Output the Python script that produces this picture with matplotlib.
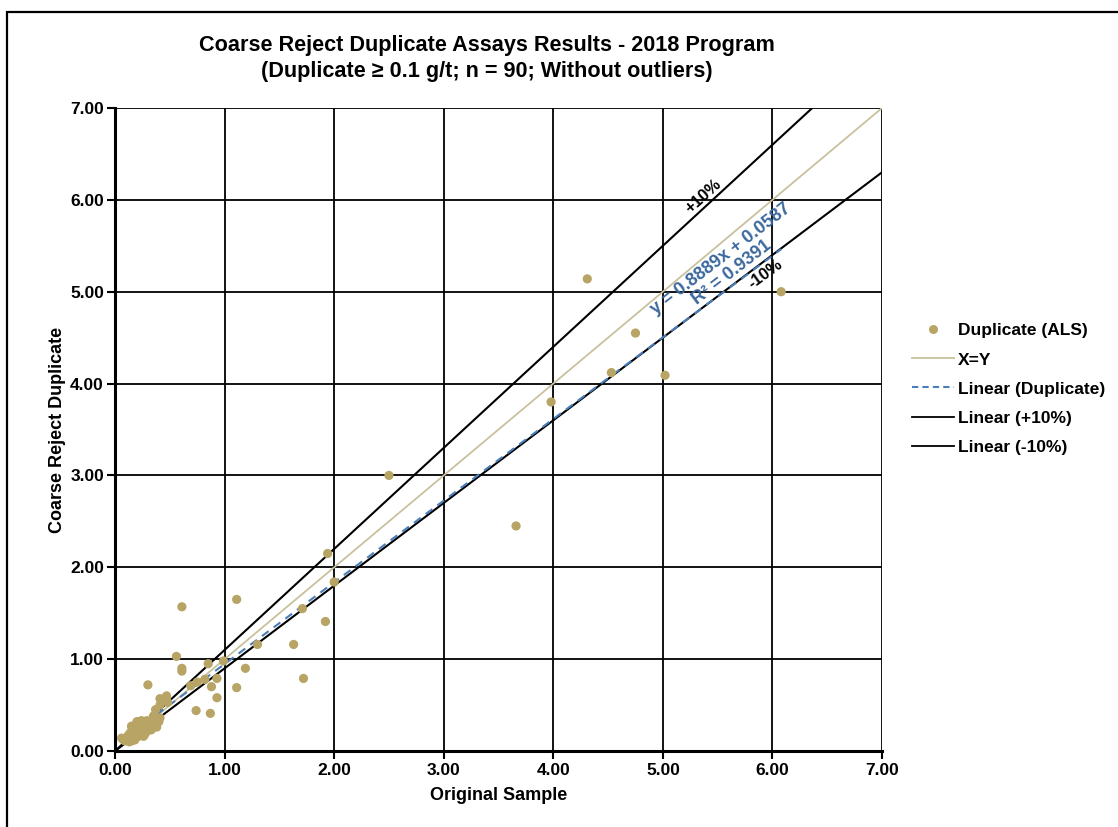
import numpy as np
import matplotlib
matplotlib.use('Agg')
import matplotlib.pyplot as plt
from matplotlib.lines import Line2D
from matplotlib.patches import Rectangle

plt.rcParams['font.family'] = ['Liberation Sans', 'DejaVu Sans']
plt.rcParams['font.weight'] = 'bold'

# original sample vs coarse reject duplicate (g/t)
orig = [6.08, 4.31, 4.75, 4.53, 5.02, 3.98, 2.50, 3.66, 1.94, 2.00,
        1.92, 1.71, 1.63, 1.72, 1.11, 1.19, 1.30, 0.99, 0.85, 0.93,
        0.75, 0.88, 1.11, 0.93, 0.74, 0.87, 0.69, 0.61, 0.56, 0.61,
        0.61, 0.30, 0.41, 0.47, 0.41, 0.48, 0.37, 0.41, 0.35, 0.82,
        0.18, 0.20, 0.24, 0.27, 0.30, 0.33, 0.36, 0.38, 0.40, 0.22,
        0.25, 0.28, 0.30, 0.32, 0.26, 0.23, 0.20, 0.18, 0.15, 0.13,
        0.12, 0.10, 0.08, 0.06, 0.16, 0.14, 0.19, 0.21, 0.17, 0.15,
        0.22, 0.26, 0.29, 0.31, 0.34, 0.11, 0.09, 0.07, 0.14, 0.19,
        0.24, 0.28, 0.33, 0.37, 0.25, 0.21, 0.17, 0.12, 0.27, 0.35]
dup = [5.00, 5.14, 4.55, 4.12, 4.09, 3.80, 3.00, 2.45, 2.15, 1.84,
       1.41, 1.55, 1.16, 0.79, 1.65, 0.90, 1.16, 0.98, 0.95, 0.79,
       0.75, 0.70, 0.69, 0.58, 0.44, 0.41, 0.71, 1.57, 1.03, 0.90,
       0.87, 0.72, 0.57, 0.60, 0.50, 0.53, 0.45, 0.36, 0.38, 0.78,
       0.28, 0.32, 0.33, 0.31, 0.30, 0.29, 0.28, 0.26, 0.32, 0.26,
       0.22, 0.20, 0.24, 0.26, 0.16, 0.17, 0.15, 0.12, 0.11, 0.10,
       0.14, 0.13, 0.12, 0.14, 0.18, 0.16, 0.21, 0.19, 0.24, 0.27,
       0.30, 0.27, 0.33, 0.29, 0.31, 0.12, 0.11, 0.13, 0.20, 0.25,
       0.19, 0.25, 0.23, 0.33, 0.29, 0.23, 0.14, 0.17, 0.18, 0.34]

# linear trendline shown on the chart
fit_slope = 0.8889
fit_intercept = 0.0587
r2 = 0.9391
ticks = [0, 1, 2, 3, 4, 5, 6, 7]

fig = plt.figure(figsize=(11.18, 8.27), dpi=100)
ax = fig.add_axes([0.1029, 0.0919, 0.6860, 0.7775])

# outer chart border
fig.patches.append(Rectangle((7 / 1118, -0.1), 1.2, 1 - 12 / 827 + 0.1,
                             transform=fig.transFigure, fill=False,
                             edgecolor='black', linewidth=1.6))

xs = np.array([0, 7])
ax.plot(xs, xs, color='#C9C19D', lw=1.3, zorder=2)
ax.plot(xs, 1.1 * xs, color='black', lw=1.5, zorder=3)
ax.plot(xs, 0.9 * xs, color='black', lw=1.5, zorder=3)
xf = np.array([min(orig), max(orig)])
ax.plot(xf, fit_slope * xf + fit_intercept, color='#4A7EBB', lw=1.5,
        ls=(0, (4, 3)), zorder=4)
ax.scatter(orig, dup, s=44, color='#B8A566', edgecolors='none', zorder=5)

ax.set_xlim(0, 7)
ax.set_ylim(0, 7)
ax.set_xticks(ticks)
ax.set_yticks(ticks)
ax.set_xticklabels([f"{t:.2f}" for t in ticks])
ax.set_yticklabels([f"{t:.2f}" for t in ticks])
ax.tick_params(labelsize=12.5, length=6, width=1.5, direction='out', pad=3)
ax.tick_params(axis='y', pad=2)
ax.grid(True, color='black', lw=1.3)
ax.set_axisbelow(True)
for s in ['left', 'bottom']:
    ax.spines[s].set_linewidth(2.2)
ax.spines['top'].set_visible(False)
ax.spines['right'].set_visible(False)

ax.set_xlabel('Original Sample', fontsize=13, fontweight='bold', labelpad=6)
ax.set_ylabel('Coarse Reject Duplicate', fontsize=13, fontweight='bold', labelpad=3)

fig.text(487 / 1118, 1 - 45 / 827, 'Coarse Reject Duplicate Assays Results - 2018 Program',
         ha='center', va='center', fontsize=15.6, fontweight='bold')
fig.text(487 / 1118, 1 - 71 / 827, '(Duplicate \u2265 0.1 g/t; n = 90; Without outliers)',
         ha='center', va='center', fontsize=15.6, fontweight='bold')

ax.text(5.37, 6.04, '+10%', rotation=42, ha='center', va='center', fontsize=12,
        rotation_mode='anchor')
ax.text(5.94, 5.19, '-10%', rotation=36, ha='center', va='center', fontsize=12,
        rotation_mode='anchor')
ax.text(5.58, 5.28, f'y = {fit_slope}x + {fit_intercept}\nR\u00b2 = {r2}', rotation=37.5,
        ha='center', va='center', ma='center', fontsize=13, color='#3B689C',
        rotation_mode='anchor', linespacing=1.05)

handles = [
    Line2D([], [], ls='none', marker='o', ms=6.5, color='#B8A566', mec='none'),
    Line2D([], [], color='#C9C19D', lw=1.3),
    Line2D([], [], color='#4A7EBB', lw=1.5, ls=(0, (3, 2))),
    Line2D([], [], color='black', lw=1.3),
    Line2D([], [], color='black', lw=1.3),
]
labels = ['Duplicate (ALS)', 'X=Y', 'Linear (Duplicate)', 'Linear (+10%)', 'Linear (-10%)']
fig.legend(handles, labels, loc='center left', bbox_to_anchor=(912 / 1118, 1 - 389 / 827),
           frameon=False, fontsize=12.5, handlelength=2.4, handletextpad=0.25,
           labelspacing=0.8, borderaxespad=0, borderpad=0)

fig.savefig('out.png', dpi=100)
